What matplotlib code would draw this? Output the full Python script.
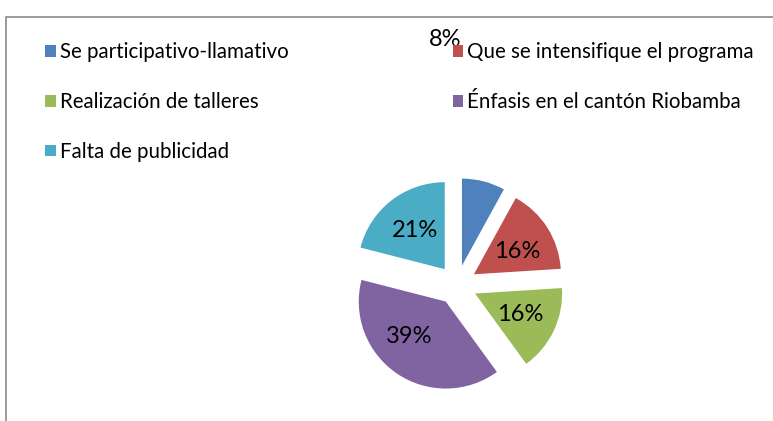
import matplotlib
matplotlib.use("Agg")
import numpy as np
import matplotlib.pyplot as plt
from matplotlib.patches import Rectangle

labels = ["Se participativo-llamativo", "Que se intensifique el programa",
          "Realización de talleres", "Énfasis en el cantón Riobamba",
          "Falta de publicidad"]
values = [8, 16, 16, 39, 21]
colors = ["#4F81BD", "#C0504D", "#9BBB59", "#8064A2", "#4BACC6"]

plt.rcParams["font.family"] = ["Lato", "DejaVu Sans"]

W, H = 773, 421
fig = plt.figure(figsize=(W / 100, H / 100), dpi=100)
ax = fig.add_axes([0, 0, 1, 1])

R = 87
wedges, texts, pcts = ax.pie(
    values, colors=colors, startangle=90, counterclock=False,
    radius=R, center=(457, H - 285), explode=[20] * len(values),
    autopct=lambda p: f"{p:.0f}%", pctdistance=0.55,
    textprops={"fontsize": 17, "color": "black"},
    wedgeprops={"linewidth": 0},
)
# label placement as Excel did it (distance, angle tweak in degrees)
dist = [0.55, 0.56, 0.57, 0.58, 0.56]
turn = [0, -4, 0, -12, 0]
for w, t, d, a in zip(wedges, pcts, dist, turn):
    th = np.deg2rad((w.theta1 + w.theta2) / 2 + a)
    cx, cy = w.center
    t.set_position((cx + d * R * np.cos(th), cy + d * R * np.sin(th)))
# Excel put the 8% label up among the legend entries
pcts[0].set_position((445, H - 40))

ax.set_xlim(0, W)
ax.set_ylim(0, H)
ax.axis("off")

# chart border (only left and top edges visible)
fig.patches.append(Rectangle((6 / W, -0.1), 1.2, (H - 17) / H + 0.1,
                             transform=fig.transFigure, fill=False,
                             edgecolor="#8a8a8a", linewidth=1.2))

order = [0, 2, 4, 1, 3]
leg = fig.legend([wedges[i] for i in order], [labels[i] for i in order],
                 ncol=2, loc="upper left",
                 bbox_to_anchor=(35 / W, 1 - 32 / H), frameon=False,
                 fontsize=14.8, handlelength=0.5, handleheight=0.5,
                 handletextpad=0.2, labelspacing=1.45, columnspacing=8.0,
                 borderpad=0)

fig.savefig("out.png", dpi=100)
